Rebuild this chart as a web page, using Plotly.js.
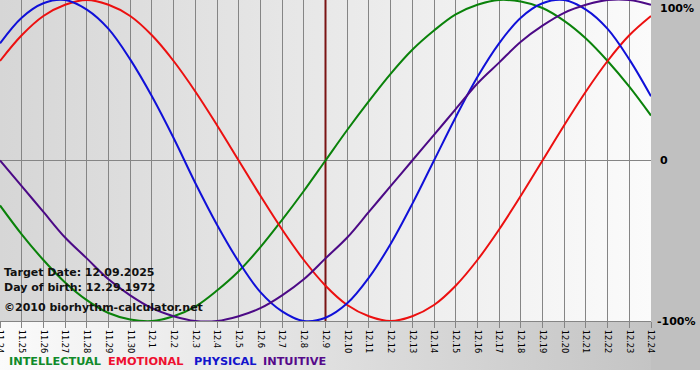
<!DOCTYPE html>
<html>
<head>
<meta charset="utf-8">
<script src="https://cdn.plot.ly/plotly-3.0.1.min.js"></script>
<style>html,body{margin:0;padding:0;background:#fff;}#chart{width:700px;height:380px;}</style>
</head>
<body>
<div id="chart"></div>
<script>
// Day labels (11.24 .. 12.24)
var days = ["11.24","11.25","11.26","11.27","11.28","11.29","11.30","12.1","12.2","12.3","12.4","12.5","12.6","12.7","12.8","12.9","12.10","12.11","12.12","12.13","12.14","12.15","12.16","12.17","12.18","12.19","12.20","12.21","12.22","12.23","12.24"];
var targetDay = "12.9";

var intellectual = [-0.28,-0.46,-0.62,-0.76,-0.87,-0.95,-0.99,-1.00,-0.97,-0.91,-0.81,-0.69,-0.54,-0.37,-0.19,0.00,0.19,0.37,0.54,0.69,0.81,0.91,0.97,1.00,0.99,0.95,0.87,0.76,0.62,0.46,0.28];
var emotional    = [0.62,0.78,0.90,0.97,1.00,0.97,0.90,0.78,0.62,0.43,0.22,0.00,-0.22,-0.43,-0.62,-0.78,-0.90,-0.97,-1.00,-0.97,-0.90,-0.78,-0.62,-0.43,-0.22,0.00,0.22,0.43,0.62,0.78,0.90];
var physical     = [0.73,0.89,0.98,1.00,0.94,0.82,0.63,0.40,0.14,-0.14,-0.40,-0.63,-0.82,-0.94,-1.00,-0.98,-0.89,-0.73,-0.52,-0.27,0.00,0.27,0.52,0.73,0.89,0.98,1.00,0.94,0.82,0.63,0.40];
var intuitive    = [0.00,-0.16,-0.32,-0.48,-0.61,-0.74,-0.84,-0.92,-0.97,-1.00,-1.00,-0.97,-0.92,-0.84,-0.74,-0.61,-0.48,-0.32,-0.16,0.00,0.16,0.32,0.48,0.61,0.74,0.84,0.92,0.97,1.00,1.00,0.97];

var seriesNames  = ["INTELLECTUAL","EMOTIONAL","PHYSICAL","INTUITIVE"];
var seriesColors = ["#0a820a","#ec1010","#1010d8","#4c0a86"];
var legendColors = ["#108a2a","#ee1030","#1414cc","#560a8a"];
var yLabels = ["100%","0","-100%"];
var infoLines = ["Target Date: 12.09.2025","Day of birth: 12.29.1972","\u00a92010 biorhythm-calculator.net"];

// background image (gradients)
var W = 700, H = 380, PL = 0, PR = 651, PT = 0, PB = 321, BOT = 370;
var cv = document.createElement('canvas'); cv.width = W; cv.height = H;
var ctx = cv.getContext('2d');
ctx.fillStyle = '#ffffff'; ctx.fillRect(0,0,W,H);
var g1 = ctx.createLinearGradient(0,0,W,0);
g1.addColorStop(0,'#fbfbfb'); g1.addColorStop(1,'#c0c0c0');
ctx.fillStyle = g1; ctx.fillRect(0,PB,W,BOT-PB);
ctx.fillStyle = '#c0c0c0'; ctx.fillRect(PR,0,W-PR,BOT);
var g2 = ctx.createLinearGradient(PL,0,PR,0);
g2.addColorStop(0,'#d6d6d6'); g2.addColorStop(1,'#fbfbfb');
ctx.fillStyle = g2; ctx.fillRect(PL,PT,PR-PL,PB-PT);
var bg = cv.toDataURL('image/png');

// target-day marker line (drawn first, under the curves)
var traces = [{x:[targetDay, targetDay], y:[-1, 1], type:'scatter', mode:'lines',
  line:{color:'#7a1414', width:2}, hoverinfo:'skip', name:'target'}];
var seriesData = [intellectual, emotional, physical, intuitive];
seriesData.forEach(function(vals, i){
  traces.push({x: days, y: vals, type:'scatter', mode:'lines', name: seriesNames[i],
    line:{color: seriesColors[i], width:2, shape:'spline', smoothing:1}, hoverinfo:'skip'});
});

var pw = PR - PL, ph = PB - PT;
function px2x(p){ return (p - PL)/pw; }
function py2y(p){ return (PB - p)/ph; }

var annotations = [];
// y labels
annotations.push({xref:'paper', yref:'paper', x:1, y:1, xanchor:'left', yanchor:'top', xshift:7, yshift:0, text:'<b>'+yLabels[0]+'</b>', showarrow:false, font:{family:'DejaVu Sans', size:11, color:'#000'}});
annotations.push({xref:'paper', yref:'y', x:1, y:0, xanchor:'left', yanchor:'middle', xshift:7, text:'<b>'+yLabels[1]+'</b>', showarrow:false, font:{family:'DejaVu Sans', size:11, color:'#000'}});
annotations.push({xref:'paper', yref:'y', x:1, y:-1, xanchor:'left', yanchor:'middle', xshift:4, text:'<b>'+yLabels[2]+'</b>', showarrow:false, font:{family:'DejaVu Sans', size:11, color:'#000'}});
// info text
var infoY = [272, 287, 307];
infoLines.forEach(function(t, i){
  annotations.push({xref:'paper', yref:'paper', x:px2x(2), y:py2y(infoY[i]), xanchor:'left', yanchor:'middle', text:'<b>'+t+'</b>', showarrow:false, font:{family:'DejaVu Sans', size:11, color:'#111'}});
});
// legend
var legX = [7, 106, 192, 261];
seriesNames.forEach(function(n, i){
  annotations.push({xref:'paper', yref:'paper', x:px2x(legX[i]), y:py2y(362), xanchor:'left', yanchor:'middle', text:'<b>'+n+'</b>', showarrow:false, font:{family:'DejaVu Sans', size:11.3, color:legendColors[i]}});
});

var layout = {
  width: W, height: H,
  margin: {l: PL, r: W-PR, t: PT, b: H-PB, pad:0},
  paper_bgcolor: '#ffffff', plot_bgcolor: 'rgba(0,0,0,0)',
  showlegend: false,
  xaxis: {type:'category', categoryorder:'array', categoryarray: days, range:[0, days.length-1], showgrid:true, gridcolor:'#858585', gridwidth:1,
    ticks:'outside', ticklen:6, tickcolor:'#858585', tickwidth:1, tickangle:90,
    tickfont:{family:'DejaVu Sans', size:8.3, color:'#000'}, showline:true, linecolor:'#858585', linewidth:1,
    zeroline:false, automargin:false, fixedrange:true},
  yaxis: {range:[-1, 1.0], showgrid:false, zeroline:true, zerolinecolor:'#858585', zerolinewidth:1,
    showticklabels:false, ticks:'', automargin:false, fixedrange:true},
  images: [{source: bg, xref:'paper', yref:'paper', x: -PL/pw, y: 1 + PT/ph, sizex: W/pw, sizey: H/ph,
    xanchor:'left', yanchor:'top', sizing:'stretch', layer:'below'}],
  annotations: annotations
};

Plotly.newPlot('chart', traces, layout, {displayModeBar:false, staticPlot:true});
</script>
</body>
</html>
